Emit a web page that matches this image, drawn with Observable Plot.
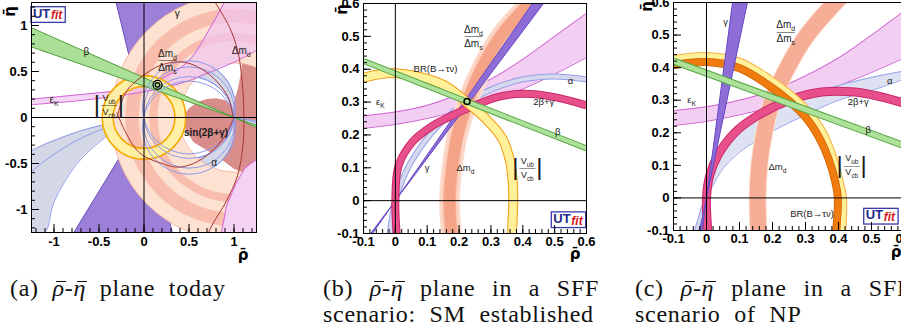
<!DOCTYPE html>
<html><head><meta charset="utf-8">
<script src="https://cdn.jsdelivr.net/npm/d3@7"></script>
<script src="https://cdn.jsdelivr.net/npm/@observablehq/plot@0.6"></script>
<style>
html,body{margin:0;padding:0;background:#fff;width:901px;height:332px;overflow:hidden;position:relative}
.panel{position:absolute;top:0;width:270px;height:262px}
.panel svg{max-width:none !important}
.cap{position:absolute;font-family:"Liberation Serif",serif;font-size:24px;line-height:26px;letter-spacing:0.7px;word-spacing:7px;color:#111;white-space:nowrap}
.j{text-align:justify;text-align-last:justify;word-spacing:0}
.bar{position:relative;font-style:italic}
.bar::before{content:"";position:absolute;left:0.16em;width:0.42em;top:0.26em;border-top:1.3px solid #111}
</style></head><body>
<div id="pa" class="panel" style="left:0px"></div>
<div id="pb" class="panel" style="left:330px"></div>
<div id="pc" class="panel" style="left:640px"></div>
<div class="cap" style="left:10px;top:275px">(a) <span class="bar">ρ</span>-<span class="bar">η</span> plane today</div>
<div class="cap" style="left:323px;top:275px;width:276px"><div class="j">(b) <span class="bar">ρ</span>-<span class="bar">η</span> plane in a SFF</div><div>scenario: SM established</div></div>
<div class="cap" style="left:635px;top:275px;width:276px"><div class="j">(c) <span class="bar">ρ</span>-<span class="bar">η</span> plane in a SFF</div><div>scenario of NP</div></div>
<script>
// ---------------- tick values ----------------
const aMajor = [-1, -0.5, 0, 0.5, 1];
const aMinor = d3.range(-12, 13).map(i => i / 10);
const bcMajor = [-0.1, 0, 0.1, 0.2, 0.3, 0.4, 0.5, 0.6];
const bcMinor = d3.range(-5, 31).map(i => i / 50);

// ---------------- panel (a): today ----------------
const aRoseUpper = [[0.42,0],[0.5,0.1],[0.6,0.17],[0.7,0.2],[0.8,0.21],[0.9,0.19],[0.98,0.12],[1.04,0.3],[1.08,0.5],[1.1,0.7],[1.3,0.8],[1.3,0]];
const aRoseLower = [[0.44,0],[0.46,-0.13],[0.55,-0.27],[0.74,-0.38],[0.88,-0.47],[1.0,-0.56],[1.12,-0.6],[1.3,-0.65],[1.3,0]];
const aAlphaLeftX = [-1.25,-1.1,-1.0,-0.75,-0.5,-0.25,0];
const aAlphaLeftHi = [-0.36,-0.29,-0.25,-0.16,-0.09,-0.04,0];
const aAlphaLeftMid = [-0.585,-0.47,-0.40,-0.25,-0.14,-0.055,0];
const aAlphaLeftLo = [-1.3,-1.25,-0.92,-0.51,-0.27,-0.10,0];
const aAlphaRightX = [1, 1.1, 1.25];
const aAlphaRightHi = [0,-0.014,-0.04];
const aAlphaRightMid = [0,-0.017,-0.055];
const aAlphaRightLo = [0,-0.036,-0.10];
const aAlphaArcX = [0,0.05,0.1,0.2,0.3,0.4,0.5,0.6,0.7,0.8,0.9,0.95,1];
const aAlphaOuter = [0.22,0.354,0.43,0.525,0.581,0.612,0.622,0.612,0.581,0.525,0.43,0.354,0.22];
const aAlphaInner = [0,0.171,0.252,0.35,0.408,0.44,0.45,0.44,0.408,0.35,0.252,0.171,0];
const aAlphaCircles = [{cx:0.5,cy:0.11,r:0.512},{cx:0.5,cy:-0.053,r:0.503},{cx:0.5,cy:0.053,r:0.503},{cx:0.5,cy:-0.11,r:0.512}];
const aGammaUp = [[0,0],[-0.31,1.25],[0.78,1.25]];
const aGammaDown = [[0,0],[-0.78,-1.25],[0.31,-1.25]];
const aDmdRing = [{cx:1, cy:0, r:0.975, w:0.75}];
const aRatioRings = [{cx:1, cy:0, r:0.885, w:0.09},{cx:1, cy:0, r:1.12, w:0.15}];
const aEpsX = [-1.25,-0.75,-0.25,0,0.25,0.5,0.75,1.0,1.25];
const aEpsLo = [0.14,0.18,0.24,0.28,0.33,0.40,0.50,0.60,0.73];
const aEpsHi = [0.20,0.245,0.30,0.36,0.45,0.62,1.0,1.45,1.9];
const aEpsLowerRight = [[0.85,-1.3],[0.92,-0.95],[1.02,-0.72],[1.12,-0.55],[1.3,-0.42],[1.3,-1.3]];
const aVubRing = [{cx:0, cy:0, r:0.40, w:0.12}];
const aVubEdges = [{cx:0, cy:0, r:0.34},{cx:0, cy:0, r:0.46}];
const aBetaLeft = [[-1.25,0.975],[1,0],[-1.25,0.767]];
const aBetaRight = [[1.25,-0.108],[1,0],[1.25,-0.085]];
const aRedRight = [[0.76,1.3],[0.95,0.98],[1.04,0.73],[1.09,0.4],[1.11,0],[1.1,-0.3],[1.04,-0.63],[0.92,-0.9],[0.74,-1.2],[0.7,-1.3]];
const aRedUpper = [[-0.3,0.0],[-0.2,0.28],[-0.03,0.44],[0.19,0.57],[0.45,0.6],[0.71,0.48],[0.93,0.23],[0.99,0]];
const aRedLower = [[-0.3,0.05],[-0.22,-0.13],[-0.1,-0.33],[0,-0.42],[0.2,-0.5],[0.37,-0.54],[0.55,-0.5],[0.74,-0.38],[0.9,-0.2],[1,0]];
const aFit = [[0.15,0.355]];
const aLabels = [{t:"γ",x:0.37,y:1.13},{t:"β",x:-0.64,y:0.71},{t:"Δm_{d}",x:1.08,y:0.73},{t:"ε_{K}",x:-1.0,y:0.19},{t:"α",x:0.78,y:-0.49}];
const aBoldLabels = [{t:"sin(2β+γ)",x:0.69,y:-0.165}];
const aFracs = [{num:"Δm_{d}",den:"Δm_{s}",x:0.26,y:0.62}];
const aVub = [{num:"V_{ub}",den:"V_{cb}",x:-0.39,y:0.14}];
const aLogo = [{x:-1.06,y:1.13}];

// ---------------- panel (b): SFF, SM ----------------
const bEpsX = [-0.1,0,0.1,0.2,0.3,0.4,0.5,0.6];
const bEpsHi = [0.258,0.27,0.29,0.325,0.37,0.43,0.5,0.57];
const bEpsLo = [0.22,0.232,0.25,0.275,0.305,0.34,0.385,0.435];
const bAlpha = [[-0.018,-0.1],[0,0],[0.02,0.058],[0.05,0.119],[0.135,0.229],[0.225,0.3],[0.3,0.338],[0.4,0.369],[0.5,0.378],[0.6,0.369]];
const bDmd = [[0.177,-0.11],[0.17,0],[0.178,0.1],[0.195,0.2],[0.226,0.3],[0.27,0.4],[0.33,0.5],[0.42,0.6],[0.45,0.63]];
const bGamma = [[-0.0775,-0.1],[0,0],[0.465,0.6],[0.43,0.6],[0,0],[-0.0717,-0.1]];
const bTwoBG = [[0.004,-0.1],[0,0],[0.01,0.106],[0.052,0.177],[0.115,0.227],[0.18,0.26],[0.25,0.29],[0.32,0.315],[0.4,0.325],[0.5,0.315],[0.6,0.29]];
const bVub = [[-0.1,0.374],[0,0.388],[0.147,0.354],[0.22,0.303],[0.283,0.25],[0.335,0.19],[0.36,0.12],[0.369,0.05],[0.37,0],[0.366,-0.1]];
const bBeta = [[-0.1,0.425],[0.6,0.159]];
const bFit = [[0.225,0.302]];
const bLabels = [{t:"BR(B→τν)",x:0.126,y:0.40},{t:"ε_{K}",x:-0.047,y:0.30},{t:"α",x:0.55,y:0.365},{t:"2β+γ",x:0.466,y:0.30},{t:"β",x:0.51,y:0.21},{t:"γ",x:0.1,y:0.1},{t:"Δm_{d}",x:0.22,y:0.1}];
const bFracs = [{num:"Δm_{d}",den:"Δm_{s}",x:0.245,y:0.5}];
const bVubLab = [{num:"V_{ub}",den:"V_{cb}",x:0.414,y:0.1}];
const bLogo = [{x:0.545,y:-0.055}];

// ---------------- panel (c): SFF, NP ----------------
const cEpsX = [-0.1,0,0.1,0.2,0.3,0.4,0.5,0.6];
const cEpsHi = [0.268,0.28,0.3,0.33,0.375,0.43,0.5,0.575];
const cEpsLo = [0.222,0.235,0.255,0.28,0.31,0.345,0.385,0.43];
const cAlphaX = [0,0.05,0.1,0.15,0.2,0.3,0.4,0.5,0.6];
const cAlphaHi = [0,0.14,0.2,0.24,0.27,0.31,0.345,0.37,0.39];
const cAlphaLo = [0,0.09,0.14,0.175,0.205,0.255,0.3,0.33,0.365];
const cAlphaTail = [[-0.03,-0.1],[0,0]];
const cDmd = [[0.158,-0.11],[0.155,0],[0.16,0.1],[0.175,0.2],[0.2,0.3],[0.245,0.4],[0.305,0.5],[0.39,0.6],[0.42,0.63]];
const cGamma = [[-0.021,-0.1],[0,0],[0.079,0.6],[0.124,0.6],[0,0],[-0.013,-0.1]];
const cTwoBG = [[0.004,-0.1],[0,0],[0.01,0.07],[0.034,0.13],[0.085,0.2],[0.15,0.25],[0.25,0.3],[0.35,0.325],[0.45,0.325],[0.55,0.305],[0.6,0.29]];
const cVub = [[-0.1,0.428],[0,0.437],[0.1,0.42],[0.19,0.368],[0.26,0.315],[0.31,0.265],[0.355,0.2],[0.385,0.125],[0.405,0.05],[0.415,0],[0.413,-0.1]];
const cBR = [[-0.1,0.408],[0,0.417],[0.1,0.398],[0.185,0.348],[0.25,0.298],[0.3,0.248],[0.34,0.188],[0.37,0.12],[0.39,0.05],[0.398,0],[0.393,-0.1]];
const cBeta = [[-0.1,0.42],[0.6,0.16]];
const cLabels = [{t:"γ",x:0.058,y:0.54},{t:"ε_{K}",x:-0.045,y:0.30},{t:"α",x:0.555,y:0.36},{t:"2β+γ",x:0.46,y:0.295},{t:"β",x:0.49,y:0.21},{t:"Δm_{d}",x:0.215,y:0.095},{t:"BR(B→τν)",x:0.32,y:-0.05}];
const cFracs = [{num:"Δm_{d}",den:"Δm_{s}",x:0.24,y:0.51}];
const cVubLab = [{num:"V_{ub}",den:"V_{cb}",x:0.44,y:0.1}];
const cLogo = [{x:0.53,y:-0.053}];

// ---------------- helpers ----------------
const XY = {x: d => d[0], y: d => d[1]};
const clip = true;
const fmt = d => (d < 0 ? "-" : "") + String(Math.abs(+(+d).toFixed(2)));

function strokeBand(pts, w, fill, edge) {
  return [
    Plot.line(pts, {...XY, curve: "catmull-rom", stroke: edge, strokeWidth: w + 2, strokeLinecap: "butt", clip}),
    Plot.line(pts, {...XY, curve: "catmull-rom", stroke: fill, strokeWidth: w, strokeLinecap: "butt", clip})
  ];
}
function areaBand(xs, lo, hi, fill, edge, opacity = 1) {
  const rows = xs.map((x, i) => ({x, lo: lo[i], hi: hi[i]}));
  return [
    Plot.areaY(rows, {x: "x", y1: "lo", y2: "hi", curve: "catmull-rom", fill, fillOpacity: opacity, clip}),
    Plot.line(rows, {x: "x", y: "lo", curve: "catmull-rom", stroke: edge, strokeWidth: 1, clip}),
    Plot.line(rows, {x: "x", y: "hi", curve: "catmull-rom", stroke: edge, strokeWidth: 1, clip})
  ];
}
function curveLine(xs, ys, stroke, w = 1) {
  const rows = xs.map((x, i) => ({x, y: ys[i]}));
  return Plot.line(rows, {x: "x", y: "y", curve: "catmull-rom", stroke, strokeWidth: w, clip});
}
function polygon(pts, fill, edge, opacity = 1) {
  return Plot.line(pts, {...XY, curve: "linear-closed", fill, fillOpacity: opacity, stroke: edge, strokeWidth: 1, clip});
}
function textMarks(labels, size = 10, weight = "normal") {
  return Plot.text(labels, {x: "x", y: "y", text: "t", fontSize: size, fontWeight: weight, fill: "#1a1a1a"});
}
function fracMarks(fr, size = 10) {
  return [
    Plot.text(fr, {x: "x", y: "y", text: "num", dy: -7, fontSize: size, fontWeight: "normal", fill: "#1a1a1a"}),
    Plot.text(fr, {x: "x", y: "y", text: () => "——", fontSize: size - 1, fontWeight: "normal", fill: "#1a1a1a"}),
    Plot.text(fr, {x: "x", y: "y", text: "den", dy: 7, fontSize: size, fontWeight: "normal", fill: "#1a1a1a"})
  ];
}
function absFrac(fr) {
  return [
    ...fracMarks(fr, 9),
    Plot.text(fr, {x: "x", y: "y", text: () => "|", dx: -12, fontSize: 24, fontWeight: "normal", fill: "#1a1a1a"}),
    Plot.text(fr, {x: "x", y: "y", text: () => "|", dx: 12, fontSize: 24, fontWeight: "normal", fill: "#1a1a1a"})
  ];
}
function logoMarks(pos) {
  return [
    Plot.text(pos, {x: "x", y: "y", text: () => "UT", dx: -7, fontSize: 13, fontWeight: "bold", fill: "#1f2a8c"}),
    Plot.text(pos, {x: "x", y: "y", text: () => "fit", dx: 8, dy: 2, fontSize: 12, fontStyle: "italic", fontWeight: "bold", fill: "#d42020"})
  ];
}
function ticks(xMajor, xMinor, yMajor, yMinor, fw, fh) {
  return [
    Plot.tickX(xMinor, {x: d => d, insetTop: fh - 4, stroke: "black"}),
    Plot.tickX(xMajor, {x: d => d, insetTop: fh - 8, stroke: "black"}),
    Plot.tickY(yMinor, {y: d => d, insetRight: fw - 4, stroke: "black"}),
    Plot.tickY(yMajor, {y: d => d, insetRight: fw - 8, stroke: "black"})
  ];
}
function axisLabels(dxR, dyR, dxE, dyE) {
  return [
    Plot.text(["ρ̄"], {text: d => d, frameAnchor: "bottom-right", lineAnchor: "middle", textAnchor: "end", dx: dxR, dy: dyR, fontSize: 15, fontWeight: "bold", fontFamily: "DejaVu Sans"}),
    Plot.text(["η̄"], {text: d => d, frameAnchor: "top-left", lineAnchor: "middle", textAnchor: "middle", dx: dxE, dy: dyE, fontSize: 15, fontWeight: "bold", fontFamily: "DejaVu Sans", rotate: -90})
  ];
}
const baseStyle = "font-family:'Liberation Sans',Arial,sans-serif;font-weight:bold;font-size:13px;background:transparent;color:black;overflow:visible;max-width:none";

function finish(svg) {
  const texts = [...svg.querySelectorAll("text")];
  const uts = texts.filter(t => t.textContent === "UT");
  const fits = texts.filter(t => t.textContent === "fit");
  const sb = svg.getBoundingClientRect();
  uts.forEach((ut, i) => {
    const els = [ut, fits[i]].filter(Boolean);
    let x0 = Infinity, y0 = Infinity, x1 = -Infinity, y1 = -Infinity;
    els.forEach(e => { const b = e.getBoundingClientRect(); x0 = Math.min(x0, b.left - sb.left); y0 = Math.min(y0, b.top - sb.top); x1 = Math.max(x1, b.right - sb.left); y1 = Math.max(y1, b.bottom - sb.top); });
    if (!isFinite(x0)) return;
    const rect = document.createElementNS("http://www.w3.org/2000/svg", "rect");
    rect.setAttribute("x", x0 - 2); rect.setAttribute("y", y0 + 1);
    rect.setAttribute("width", x1 - x0 + 4); rect.setAttribute("height", Math.max(1, y1 - y0 - 1));
    rect.setAttribute("fill", "white"); rect.setAttribute("stroke", "#3a3aa8"); rect.setAttribute("stroke-width", "1.3");
    let g0 = ut; while (g0.parentNode && g0.parentNode !== svg) g0 = g0.parentNode;
    svg.insertBefore(rect, g0);
  });
  texts.forEach(t => {
    const targets = t.querySelector("tspan") ? [...t.querySelectorAll("tspan")] : [t];
    targets.forEach(el => {
      const s = el.textContent;
      if (!s.includes("_{")) return;
      el.textContent = "";
      const parts = s.split(/_\{([^}]*)\}/);
      parts.forEach((p, i) => {
        if (!p) return;
        const ts = document.createElementNS("http://www.w3.org/2000/svg", "tspan");
        ts.textContent = p;
        if (i % 2 === 1) { ts.setAttribute("dy", "3"); ts.setAttribute("font-size", "70%"); }
        else if (i > 0) { ts.setAttribute("dy", "-3"); }
        el.appendChild(ts);
      });
    });
  });
}
function mount(id, chart) { document.getElementById(id).appendChild(chart); finish(chart); }

// ---------------- panel (a) ----------------
const pxA = 91;
const faW = 225, faH = 230;
mount("pa", Plot.plot({
  width: 262, height: 262, marginLeft: 31, marginRight: 6, marginTop: 2, marginBottom: 30,
  style: baseStyle,
  x: {domain: [-1.25, 1.25], ticks: aMajor, tickFormat: fmt, tickSize: 0, tickPadding: 4, label: null},
  y: {domain: [-1.25, 1.25], ticks: aMajor, tickFormat: fmt, tickSize: 0, tickPadding: 4, label: null},
  r: {type: "linear", domain: [0, 1], range: [0, pxA]},
  marks: [
    polygon(aRoseUpper, "#d98d8b", "none"),
    polygon(aRoseLower, "#d98d8b", "none"),
    ...areaBand(aAlphaLeftX, aAlphaLeftLo, aAlphaLeftHi, "#d4d7e6", "#8d9bea"),
    curveLine(aAlphaLeftX, aAlphaLeftMid, "#8d9bea"),
    ...areaBand(aAlphaRightX, aAlphaRightLo, aAlphaRightHi, "#d4d7e6", "#8d9bea"),
    curveLine(aAlphaRightX, aAlphaRightMid, "#8d9bea"),
    ...areaBand(aAlphaArcX, aAlphaInner, aAlphaOuter, "#d4d7e6", "#8d9bea"),
    ...areaBand(aAlphaArcX, aAlphaOuter.map(v => -v), aAlphaInner.map(v => -v), "#d4d7e6", "#8d9bea"),
    polygon(aGammaUp, "#9c80d8", "#6a4cc0"),
    polygon(aGammaDown, "#9c80d8", "#6a4cc0"),
    Plot.dot(aDmdRing, {x: "cx", y: "cy", r: "r", fill: "none", stroke: "#fde2d2", strokeWidth: d => d.w * pxA, clip}),
    Plot.dot(aRatioRings, {x: "cx", y: "cy", r: "r", fill: "none", stroke: "#f6b4a2", strokeOpacity: 0.8, strokeWidth: d => d.w * pxA, clip}),
    Plot.dot(aDmdRing, {x: "cx", y: "cy", r: d => d.r + d.w / 2, fill: "none", stroke: "#f4ad98", strokeWidth: 0.8, clip}),
    Plot.dot(aDmdRing, {x: "cx", y: "cy", r: d => d.r - d.w / 2, fill: "none", stroke: "#f4ad98", strokeWidth: 0.8, clip}),
    ...areaBand(aEpsX, aEpsLo, aEpsHi, "#efc6f0", "#d35fd5", 0.7),
    polygon(aEpsLowerRight, "#f3d2f3", "#d35fd5"),
    Plot.dot(aVubRing, {x: "cx", y: "cy", r: "r", fill: "none", stroke: "#fff2a0", strokeOpacity: 0.9, strokeWidth: d => d.w * pxA, clip}),
    Plot.dot(aVubEdges, {x: "cx", y: "cy", r: "r", fill: "none", stroke: "#f5a800", strokeWidth: 1.6, clip}),
    polygon(aBetaLeft, "#abdf97", "#4f9e3c"),
    polygon(aBetaRight, "#abdf97", "#4f9e3c"),
    Plot.dot(aAlphaCircles, {x: "cx", y: "cy", r: "r", fill: "none", stroke: "#8d9bea", strokeWidth: 1, clip}),
    Plot.line(aRedRight, {...XY, curve: "catmull-rom", stroke: "#a83535", strokeWidth: 1, clip}),
    Plot.line(aRedUpper, {...XY, curve: "catmull-rom", stroke: "#a83535", strokeWidth: 1, clip}),
    Plot.line(aRedLower, {...XY, curve: "catmull-rom", stroke: "#a83535", strokeWidth: 1, clip}),
    Plot.ruleX([0], {stroke: "black", strokeWidth: 1}),
    Plot.ruleY([0], {stroke: "black", strokeWidth: 1}),
    Plot.dot(aFit, {...XY, r: 4.5, fill: "none", stroke: "black", strokeWidth: 1.2}),
    Plot.dot(aFit, {...XY, r: 2.3, fill: "none", stroke: "black", strokeWidth: 1.2}),
    textMarks(aLabels, 10),
    textMarks(aBoldLabels, 10, "bold"),
    ...fracMarks(aFracs, 10),
    ...absFrac(aVub),
    ...logoMarks(aLogo),
    ...ticks(aMajor, aMinor, aMajor, aMinor, faW, faH),
    Plot.frame({stroke: "black"}),
    ...axisLabels(-8, 23, -21, 9)
  ]
}));

// ---------------- panel (b) ----------------
const fbW = 223, fbH = 230;
mount("pb", Plot.plot({
  width: 262, height: 262, marginLeft: 33, marginRight: 6, marginTop: 3, marginBottom: 29,
  style: baseStyle,
  x: {domain: [-0.1, 0.6], ticks: bcMajor, tickFormat: fmt, tickSize: 0, tickPadding: 3, label: null},
  y: {domain: [-0.1, 0.6], ticks: bcMajor, tickFormat: fmt, tickSize: 0, tickPadding: 4, label: null},
  marks: [
    ...areaBand(bEpsX, bEpsLo, bEpsHi, "#f0c2f0", "#cf5fd0", 0.8),
    ...strokeBand(bAlpha, 4, "#d6d9ee", "#939fea"),
    ...strokeBand(bDmd, 19, "#fcd4c3", "#fbe3d8"),
    ...strokeBand(bDmd, 11, "#f5a387", "#f6b39c"),
    polygon(bGamma, "#8e6ed6", "#6547c4"),
    ...strokeBand(bTwoBG, 6, "#e8508c", "#c9286a"),
    ...strokeBand(bVub, 8, "#fff09a", "#f39c12"),
    ...strokeBand(bBeta, 4, "#aee29a", "#58a845"),
    Plot.ruleX([0], {stroke: "black", strokeWidth: 1}),
    Plot.ruleY([0], {stroke: "black", strokeWidth: 1}),
    Plot.dot(bFit, {...XY, r: 3, fill: "none", stroke: "black", strokeWidth: 1.5}),
    textMarks(bLabels, 9.5),
    ...fracMarks(bFracs, 10),
    ...absFrac(bVubLab),
    ...logoMarks(bLogo),
    ...ticks(bcMajor, bcMinor, bcMajor, bcMinor, fbW, fbH),
    Plot.frame({stroke: "black"}),
    ...axisLabels(-6, 21, -21, 6)
  ]
}));

// ---------------- panel (c) ----------------
const fcW = 231, fcH = 228;
mount("pc", Plot.plot({
  width: 270, height: 262, marginLeft: 33, marginRight: 6, marginTop: 2, marginBottom: 32,
  style: baseStyle,
  x: {domain: [-0.1, 0.6], ticks: bcMajor, tickFormat: fmt, tickSize: 0, tickPadding: 3, label: null},
  y: {domain: [-0.1, 0.6], ticks: bcMajor, tickFormat: fmt, tickSize: 0, tickPadding: 4, label: null},
  marks: [
    ...areaBand(cEpsX, cEpsLo, cEpsHi, "#f0c2f0", "#cf5fd0", 0.8),
    ...areaBand(cAlphaX, cAlphaLo, cAlphaHi, "#d6d9ee", "#939fea", 0.8),
    ...strokeBand(cAlphaTail, 3, "#d6d9ee", "#939fea"),
    ...strokeBand(cDmd, 16, "#f7ae97", "#fde0d2"),
    ...strokeBand(cTwoBG, 7, "#e8508c", "#c9286a"),
    ...strokeBand(cVub, 5, "#fff09a", "#f5b041"),
    ...strokeBand(cBR, 6, "#f07c10", "#d86a08"),
    polygon(cGamma, "#8e6ed6", "#6547c4"),
    ...strokeBand(cBeta, 5, "#aee29a", "#58a845"),
    Plot.ruleX([0], {stroke: "black", strokeWidth: 1}),
    Plot.ruleY([0], {stroke: "black", strokeWidth: 1}),
    textMarks(cLabels, 9.5),
    ...fracMarks(cFracs, 10),
    ...absFrac(cVubLab),
    ...logoMarks(cLogo),
    ...ticks(bcMajor, bcMinor, bcMajor, bcMinor, fcW, fcH),
    Plot.frame({stroke: "black"}),
    ...axisLabels(-3, 22, -26, 4)
  ]
}));
</script>
</body></html>
